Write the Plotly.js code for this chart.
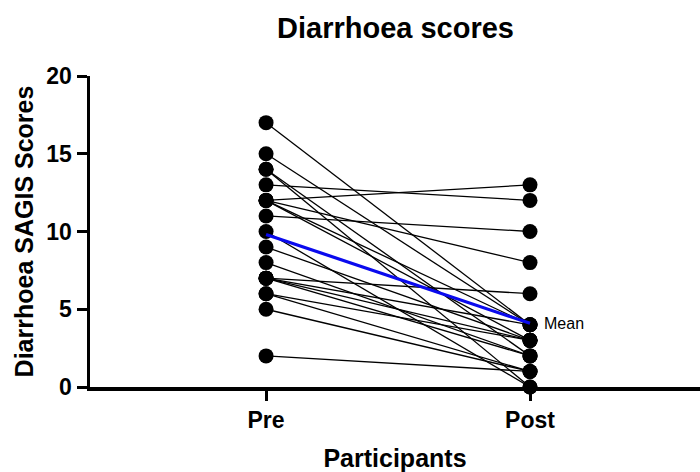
<!DOCTYPE html>
<html>
<head>
<meta charset="utf-8">
<script src="https://cdn.plot.ly/plotly-3.0.1.min.js"></script>
<style>html,body{margin:0;padding:0;background:#fff}#chart{width:700px;height:472px}</style>
</head>
<body>
<div id="chart"></div>
<script>
const categories = ['Pre', 'Post'];
const preScores  = [17, 15, 14, 14, 13, 12, 12, 12, 12, 11, 10, 9, 8, 7, 7, 7, 7, 6, 6, 5, 2];
const postScores = [4, 4, 0, 2, 12, 13, 8, 3, 4, 10, 0, 3, 2, 6, 4, 2, 3, 1, 3, 1, 1];
const yTicks = [0, 5, 10, 15, 20];

const meanPre = preScores.reduce((a, b) => a + b, 0) / preScores.length;
const meanPost = postScores.reduce((a, b) => a + b, 0) / postScores.length;

const traces = [];
preScores.forEach((p, i) => {
  traces.push({
    x: [0, 1], y: [p, postScores[i]],
    type: 'scatter', mode: 'lines+markers',
    line: {color: '#000', width: 1.3},
    marker: {color: '#000', size: 15},
    cliponaxis: false, hoverinfo: 'skip', showlegend: false
  });
});
traces.push({
  x: [0, 1], y: [meanPre, meanPost],
  type: 'scatter', mode: 'lines',
  line: {color: '#0a0aee', width: 3.2},
  cliponaxis: false, showlegend: false
});

const font = 'Liberation Sans, Arial, sans-serif';
const layout = {
  width: 700, height: 472,
  margin: {l: 90, r: 0, t: 76, b: 85},
  paper_bgcolor: '#fff', plot_bgcolor: '#fff',
  title: {text: '<b>Diarrhoea scores</b>', font: {family: font, size: 29, color: '#000'}, x: 0.565, xanchor: 'center', y: 0.94, yanchor: 'middle'},
  xaxis: {
    range: [-0.667, 1.644], tickvals: [0, 1], ticktext: categories.map(c => '<b>' + c + '</b>'),
    showgrid: false, zeroline: false, showline: true, linecolor: '#000', linewidth: 3.5,
    ticks: 'outside', ticklen: 10, tickwidth: 3, tickcolor: '#000',
    tickfont: {family: font, size: 23, color: '#000'},
    title: {text: '<b>Participants</b>', font: {family: font, size: 25, color: '#000'}, standoff: 22}
  },
  yaxis: {
    range: [0, 20], tickvals: yTicks, ticktext: yTicks.map(v => '<b>' + v + '</b>'),
    showgrid: false, zeroline: false, showline: true, linecolor: '#000', linewidth: 3.5,
    ticks: 'outside', ticklen: 10, tickwidth: 3, tickcolor: '#000',
    tickfont: {family: font, size: 23, color: '#000'},
    title: {text: '<b>Diarrhoea SAGIS Scores</b>', font: {family: font, size: 25, color: '#000'}, standoff: 6}
  },
  annotations: [{
    x: 1, y: meanPost, xref: 'x', yref: 'y', text: 'Mean', showarrow: false,
    xanchor: 'left', yanchor: 'middle', xshift: 12,
    font: {family: font, size: 16, color: '#000'}
  }]
};
Plotly.newPlot('chart', traces, layout, {displayModeBar: false, staticPlot: true});
</script>
</body>
</html>
